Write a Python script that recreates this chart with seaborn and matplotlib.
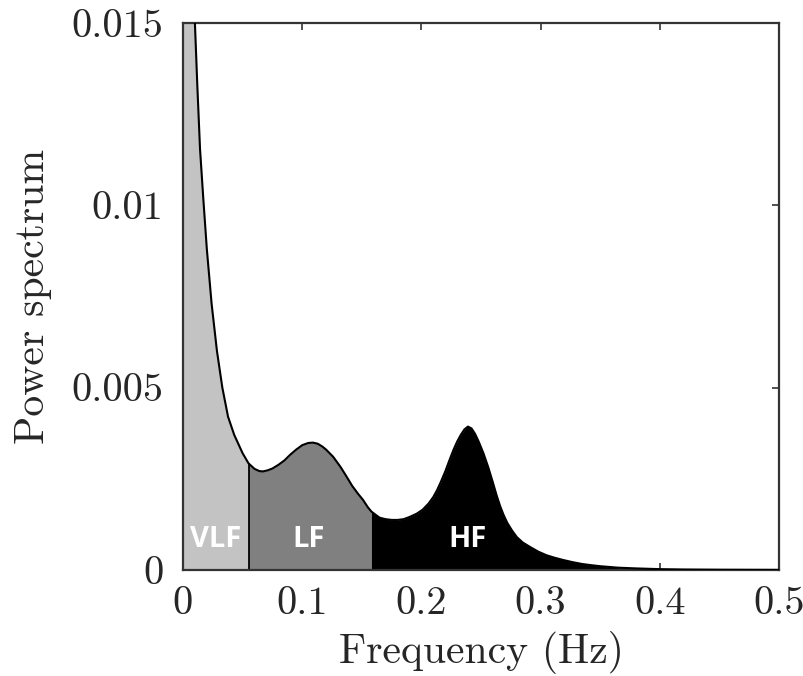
import numpy as np
import pandas as pd
import matplotlib
matplotlib.use("Agg")
import matplotlib.pyplot as plt
import seaborn as sns

# ---- data ----
freq = [0.000, 0.003, 0.006, 0.008, 0.010, 0.012, 0.0143, 0.017, 0.020, 0.024,
        0.0285, 0.033, 0.0378, 0.043, 0.050, 0.055, 0.060, 0.064, 0.067, 0.071,
        0.075, 0.080, 0.085, 0.090, 0.095, 0.100, 0.105, 0.109, 0.113, 0.117,
        0.120, 0.126, 0.132, 0.137, 0.142, 0.147, 0.151, 0.155, 0.158, 0.162,
        0.165, 0.170, 0.175, 0.180, 0.185, 0.190, 0.196, 0.201, 0.206, 0.210,
        0.213, 0.216, 0.220, 0.224, 0.227, 0.230, 0.233, 0.236, 0.239, 0.242,
        0.245, 0.248, 0.252, 0.256, 0.260, 0.263, 0.266, 0.269, 0.272, 0.276,
        0.280, 0.285, 0.291, 0.298, 0.305, 0.312, 0.319, 0.327, 0.335, 0.342,
        0.350, 0.365, 0.380, 0.400, 0.420, 0.450, 0.500]
power = [0.0240, 0.0210, 0.0182, 0.0165, 0.0150, 0.0133, 0.01154, 0.0102, 0.0088, 0.0073,
         0.0060, 0.0050, 0.0042, 0.0037, 0.0032, 0.00292, 0.00277, 0.00271, 0.00270, 0.00273,
         0.00278, 0.00288, 0.00300, 0.00316, 0.00330, 0.00342, 0.00348, 0.00349, 0.00346, 0.00338,
         0.00330, 0.00310, 0.00283, 0.00257, 0.00230, 0.00208, 0.00192, 0.00172, 0.00160, 0.00150,
         0.00143, 0.00139, 0.00137, 0.00137, 0.00139, 0.00145, 0.00154, 0.00165, 0.00182, 0.00200,
         0.00218, 0.00239, 0.00270, 0.00305, 0.00330, 0.00352, 0.00370, 0.00385, 0.00393, 0.00388,
         0.00373, 0.00352, 0.00320, 0.00282, 0.00239, 0.00205, 0.00175, 0.00150, 0.00129, 0.00108,
         0.00090, 0.00075, 0.00063, 0.00050, 0.00040, 0.00033, 0.00027, 0.00021, 0.00016, 0.00013,
         0.00010, 0.00006, 0.00004, 0.00002, 0.00001, 0.000004, 0.0]
band_names = ["VLF", "LF", "HF"]
band_edges = [0.0, 0.055, 0.158, 0.5]
band_colors = ["#c3c3c3", "#808080", "#000000"]
band_label_x = [0.027, 0.105, 0.239]
band_label_y = 0.00082
xticks = [0, 0.1, 0.2, 0.3, 0.4, 0.5]
xticklabels = ["0", "0.1", "0.2", "0.3", "0.4", "0.5"]
yticks = [0, 0.005, 0.01, 0.015]
yticklabels = ["0", "0.005", "0.01", "0.015"]

df = pd.DataFrame({"freq": freq, "power": power})

sns.set_theme(style="ticks")
plt.rcParams["font.family"] = ["cmr10", "DejaVu Serif"]
plt.rcParams["axes.formatter.use_mathtext"] = True
plt.rcParams["axes.unicode_minus"] = False

fig = plt.figure(figsize=(8.04, 6.76), dpi=100)
ax = fig.add_axes([0.2276, 0.157, 0.7414, 0.809])

f = np.array(freq)
p = np.array(power)
for lo, hi, c in zip(band_edges[:-1], band_edges[1:], band_colors):
    m = (f >= lo) & (f <= hi)
    ax.fill_between(f[m], 0, p[m], color=c, linewidth=0, zorder=1)

# boundary line VLF/LF
i_b = freq.index(band_edges[1])
ax.vlines(band_edges[1], 0, power[i_b], color="black", linewidth=1.3, zorder=2)

sns.lineplot(data=df, x="freq", y="power", ax=ax, color="black",
             linewidth=1.5, zorder=3)

for name, x in zip(band_names, band_label_x):
    ax.text(x, band_label_y, name, color="white", fontsize=21,
            fontweight="bold", family=["Open Sans", "DejaVu Sans"],
            ha="center", va="center", zorder=4)

ax.set_xlim(0, 0.5)
ax.set_ylim(0, 0.015)
ax.set_xticks(xticks)
ax.set_xticklabels(xticklabels)
ax.set_yticks(yticks)
ax.set_yticklabels(yticklabels)
ax.tick_params(direction="in", length=5, width=1.2, top=True, right=True,
               labelsize=29, color="#333333")
ax.tick_params(axis="y", pad=14)
ax.tick_params(axis="x", pad=12)
for s in ax.spines.values():
    s.set_linewidth(1.6)
    s.set_color("#333333")
ax.set_xlabel("Frequency (Hz)", fontsize=30, labelpad=6)
ax.set_ylabel("Power spectrum", fontsize=30, labelpad=14)

fig.savefig("out.png", dpi=100)
